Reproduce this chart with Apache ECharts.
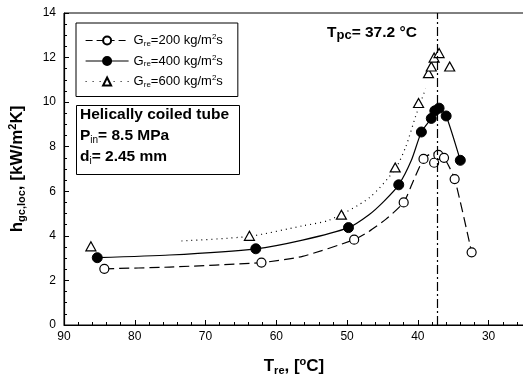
<!DOCTYPE html>
<html><head><meta charset="utf-8">
<script src="https://cdn.jsdelivr.net/npm/echarts@6/dist/echarts.min.js"></script>
<style>html,body{margin:0;padding:0;background:#fff}#c{width:523px;height:378px}</style>
</head><body><div id="c"></div>
<script>
// Data points: [T_re (°C), h (kW/m2K)]
const pts200 = [[84.3,2.52],[62.1,2.80],[49.0,3.83],[42.0,5.50],[39.2,7.45],[37.7,7.28],[37.1,7.63],[36.3,7.50],[34.8,6.55],[32.4,3.26]];
const pts400 = [[85.3,3.02],[62.9,3.42],[49.8,4.37],[42.7,6.29],[39.5,8.66],[38.1,9.27],[37.6,9.61],[37.0,9.73],[36.0,9.38],[34.0,7.39]];
const pts600 = [[86.2,3.53],[63.8,4.00],[50.8,4.95],[43.2,7.07],[39.9,9.96],[38.5,11.3],[38.1,11.6],[37.7,12.0],[37.0,12.2],[35.5,11.6]];
// Fitted curves as drawn in the picture
const fit200 = [[84.3,2.52],[75.1,2.60],[62.1,2.80],[56.3,3.08],[49.0,3.83],[46.9,4.20],[44.5,4.75],[42.0,5.50],[40.6,6.50],[39.2,7.45],[38.2,7.68],[37.4,7.72],[36.3,7.51],[34.8,6.55],[32.4,3.26]];
const fit400 = [[85.3,3.02],[75.1,3.14],[62.9,3.42],[56.3,3.81],[49.8,4.37],[46.9,4.95],[44.8,5.55],[42.7,6.29],[40.9,7.40],[39.5,8.66],[38.1,9.27],[37.0,9.73],[36.0,9.38],[34.0,7.39]];
const fit600 = [[73.4,3.77],[63.8,3.98],[56.3,4.45],[52.5,4.71],[46.9,5.70],[43.2,7.00],[41.7,8.00],[40.3,9.38],[38.9,10.60]];
const Tpc = 37.2;
const xLabels = [30,40,50,60,70,80,90];
const xMinor = [26,28,32,34,36,38,42,44,46,48,52,54,56,58,62,64,66,68,72,74,76,78,82,84,86,88];
const legendText = {G200:'200', G400:'400', G600:'600'};

const FF = 'Liberation Sans, Arial, Helvetica, sans-serif';
const chart = echarts.init(document.getElementById('c'));
const axisBase = {type:'value', min:25, max:90, inverse:true, position:'bottom'};
chart.setOption({
  animation:false,
  textStyle:{fontFamily:FF},
  grid:{left:64, right:-1, top:13, bottom:53, outerBoundsMode:'none', containLabel:false,
        show:true, borderColor:'#000', borderWidth:1, backgroundColor:'transparent'},
  xAxis:[
    Object.assign({}, axisBase, {
      axisLine:{show:true, onZero:false, lineStyle:{color:'#000', width:1.2}},
      axisTick:{show:true, inside:true, length:5, customValues:xLabels, lineStyle:{color:'#000'}},
      axisLabel:{customValues:xLabels, color:'#000', fontSize:12, margin:6, fontFamily:FF},
      splitLine:{show:false},
      name:'{b|T}{sb|re}{b|, [}{sp|o}{b|C]}', nameLocation:'middle', nameGap:31,
      nameTextStyle:{rich:{
        b:{fontSize:17, fontWeight:'bold', color:'#000', fontFamily:FF},
        sb:{fontSize:11, fontWeight:'bold', color:'#000', padding:[9,0,0,0], fontFamily:FF},
        sp:{fontSize:11, fontWeight:'bold', color:'#000', padding:[0,0,9,0], fontFamily:FF}}}
    }),
    Object.assign({}, axisBase, {
      axisLine:{show:false},
      axisTick:{show:true, inside:true, length:3, customValues:xMinor, lineStyle:{color:'#000'}},
      axisLabel:{show:false}, splitLine:{show:false}
    })
  ],
  yAxis:{
    type:'value', min:0, max:14, interval:2,
    axisLine:{show:true, lineStyle:{color:'#000', width:1.2}},
    axisTick:{show:true, inside:true, length:5, lineStyle:{color:'#000'}},
    minorTick:{show:true, splitNumber:4, length:3, lineStyle:{color:'#000'}},
    axisLabel:{color:'#000', fontSize:12, margin:8, fontFamily:FF},
    splitLine:{show:false}
  },
  legend:{
    orient:'vertical', left:76, top:23,
    padding:[10,15,8,9], itemGap:6, itemWidth:43, itemHeight:10,
    borderColor:'#000', borderWidth:1, backgroundColor:'#fff',
    data:[
      {name:'G200', lineStyle:{type:[7,4], width:1, color:'#000'}},
      {name:'G400', lineStyle:{type:'solid', width:1.2, color:'#000'}},
      {name:'G600', lineStyle:{type:[1,6], width:1.2, color:'#000'}}
    ],
    formatter: n => '{n|G}{s|re}{n|=' + legendText[n] + ' kg/m}{p|2}{n|s}',
    textStyle:{rich:{
      n:{fontSize:13, color:'#000', fontFamily:FF},
      s:{fontSize:8, color:'#000', padding:[6,0,0,0], fontFamily:FF},
      p:{fontSize:8, color:'#000', padding:[0,0,7,0], fontFamily:FF}}}
  },
  series:[
    {type:'line', data:fit200, smooth:0.2, showSymbol:false, silent:true,
     lineStyle:{color:'#000', width:1.2, type:[10,5]}, z:2},
    {type:'line', data:fit400, smooth:0.2, showSymbol:false, silent:true,
     lineStyle:{color:'#000', width:1.2}, z:2},
    {type:'line', data:fit600, smooth:0.25, showSymbol:false, silent:true,
     lineStyle:{color:'#000', width:1.2, type:[1,4]}, z:2},
    {name:'G200', type:'line', data:pts200, symbol:'circle', symbolSize:9, showSymbol:true,
     itemStyle:{color:'#fff', borderColor:'#000', borderWidth:1.2}, lineStyle:{width:0, color:'#000'}, z:4,
     markLine:{silent:true, symbol:['none','none'], label:{show:false},
       lineStyle:{color:'#000', width:1.2, type:[9,3,2,3]}, data:[{xAxis:Tpc}]}},
    {name:'G400', type:'line', data:pts400, symbol:'circle', symbolSize:10, showSymbol:true,
     itemStyle:{color:'#000', borderColor:'#000', borderWidth:1}, lineStyle:{width:0, color:'#000'}, z:4},
    {name:'G600', type:'line', data:pts600, symbol:'triangle', symbolSize:[10,9], showSymbol:true,
     itemStyle:{color:'#fff', borderColor:'#000', borderWidth:1.2}, lineStyle:{width:0, color:'#000'}, z:4}
  ],
  graphic:[
    {type:'rect', left:76, top:105, shape:{width:163, height:69},
     style:{fill:'#fff', stroke:'#000', lineWidth:1}, z:10},
    {type:'text', left:80, top:107, z:11,
     style:{text:'{b|Helically coiled tube}\n{b|P}{s|in}{b|= 8.5 MPa}\n{b|d}{s|i}{b|= 2.45 mm}',
       rich:{b:{fontSize:15.5, fontWeight:'bold', fill:'#000', fontFamily:FF, lineHeight:21},
             s:{fontSize:10, fill:'#000', fontFamily:FF, padding:[8,0,0,0], lineHeight:21}}}},
    {type:'text', left:327, top:25, z:11,
     style:{text:'{b|T}{s|pc}{b|= 37.2 °C}',
       rich:{b:{fontSize:15.5, fontWeight:'bold', fill:'#000', fontFamily:FF},
             s:{fontSize:13, fontWeight:'bold', fill:'#000', fontFamily:FF, padding:[4,0,0,0]}}}},
    {type:'text', x:17, y:169, rotation:Math.PI/2, z:11,
     style:{text:'{b|h}{s|gc,loc}{b|, [kW/m}{p|2}{b|K]}', align:'center', verticalAlign:'middle',
       rich:{b:{fontSize:17, fontWeight:'bold', fill:'#000', fontFamily:FF},
             s:{fontSize:11, fontWeight:'bold', fill:'#000', fontFamily:FF, padding:[9,0,0,0]},
             p:{fontSize:11, fontWeight:'bold', fill:'#000', fontFamily:FF, padding:[0,0,9,0]}}}}
  ]
});
</script></body></html>
